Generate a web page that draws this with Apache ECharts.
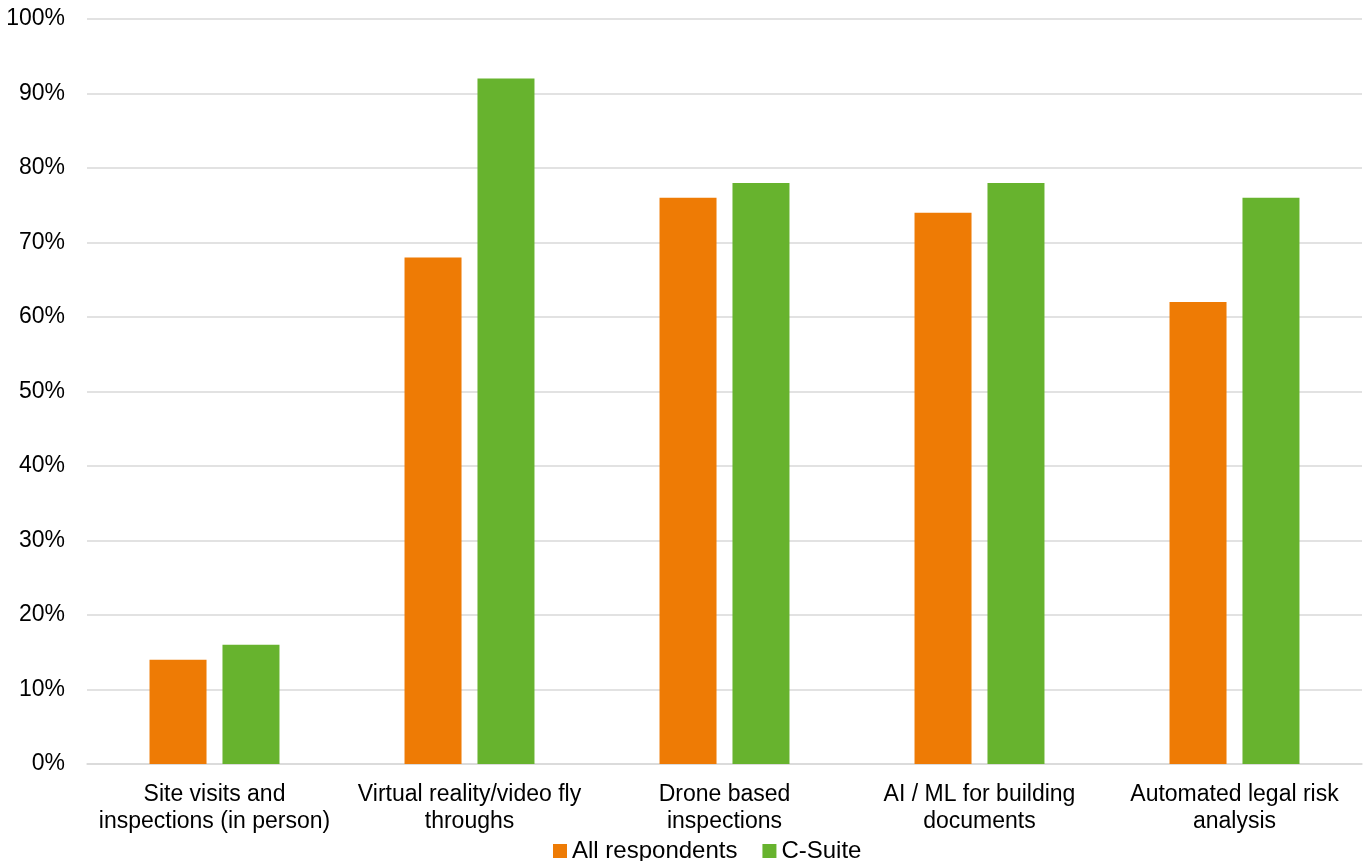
<!DOCTYPE html>
<html><head><meta charset="utf-8">
<script src="https://cdn.jsdelivr.net/npm/echarts@6/dist/echarts.min.js"></script>
<style>html,body{margin:0;padding:0;background:#fff}#c{width:1368px;height:861px}</style>
</head><body><div id="c"></div>
<script>
const categories = ["Site visits and\ninspections (in person)", "Virtual reality/video fly\nthroughs", "Drone based\ninspections", "AI / ML for building\ndocuments", "Automated legal risk\nanalysis"];
const allRespondents = [14, 68, 76, 74, 62];
const cSuite = [16, 92, 78, 78, 76];
const seriesNames = ["All respondents", "C-Suite"];
const font = "'Liberation Sans', Arial, sans-serif";
const chart = echarts.init(document.getElementById('c'), null, {renderer:'canvas'});
chart.setOption({
  animation: false,
  textStyle: {fontFamily: font},
  grid: {left: 87, right: 6, top: 19, bottom: 97, containLabel: false},
  legend: {
    bottom: -7, left: 548, itemWidth: 14, itemHeight: 14, itemGap: 25,
    icon: 'rect',
    textStyle: {fontSize: 24, color: '#000', fontFamily: font},
    data: seriesNames
  },
  xAxis: {
    type: 'category', data: categories,
    axisLine: {lineStyle: {color: '#d9d9d9', width: 1.5}},
    axisTick: {show: false},
    axisLabel: {fontSize: 23, color: '#000', lineHeight: 27, margin: 17, interval: 0, fontFamily: font}
  },
  yAxis: {
    type: 'value', min: 0, max: 100, interval: 10,
    axisLine: {show: false}, axisTick: {show: false},
    axisLabel: {formatter: '{value}%', fontSize: 23, color: '#000', margin: 22, fontFamily: font},
    splitLine: {lineStyle: {color: '#d9d9d9', width: 1.5}}
  },
  series: [
    {name: seriesNames[0], type: 'bar', data: allRespondents, itemStyle: {color: '#EE7B05'}, barWidth: 57, barGap: '28%'},
    {name: seriesNames[1], type: 'bar', data: cSuite, itemStyle: {color: '#67B32E'}, barWidth: 57}
  ]
});
</script></body></html>
